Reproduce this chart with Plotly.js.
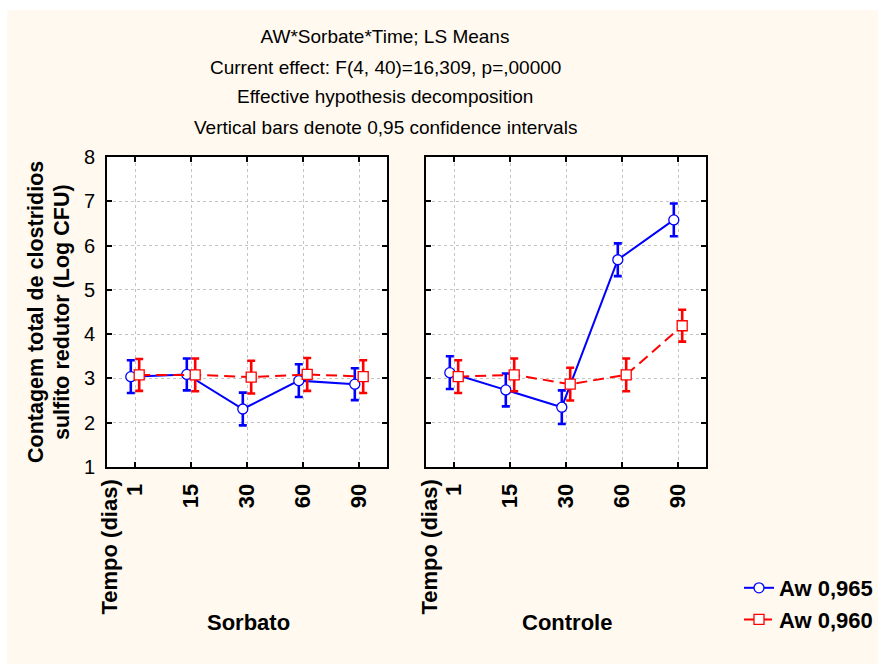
<!DOCTYPE html>
<html>
<head>
<meta charset="utf-8">
<script src="https://cdn.plot.ly/plotly-3.0.1.min.js"></script>
<style>
  html, body { margin: 0; padding: 0; background: #ffffff; }
  #chart { position: absolute; left: 7px; top: 10px; width: 871px; height: 654px; }
</style>
</head>
<body>
<div id="chart"></div>
<script>
// ---- data ----
const timeLabels = ['1', '15', '30', '60', '90'];
const seriesNames = ['Aw 0,965', 'Aw 0,960'];

// Sorbato panel
const sorbatoAw965 = [3.04, 3.09, 2.31, 2.95, 2.87];
const sorbatoAw965Err = [0.37, 0.36, 0.37, 0.37, 0.36];
const sorbatoAw960 = [3.08, 3.08, 3.03, 3.09, 3.04];
const sorbatoAw960Err = [0.36, 0.37, 0.37, 0.37, 0.37];

// Controle panel
const controleAw965 = [3.13, 2.74, 2.35, 5.68, 6.58];
const controleAw965Err = [0.37, 0.37, 0.38, 0.37, 0.37];
const controleAw960 = [3.04, 3.08, 2.87, 3.08, 4.19];
const controleAw960Err = [0.37, 0.37, 0.37, 0.37, 0.36];

const panelNames = ['Sorbato', 'Controle'];
const titleLines = [
  'AW*Sorbate*Time; LS Means',
  'Current effect: F(4, 40)=16,309, p=,00000',
  'Effective hypothesis decomposition',
  'Vertical bars denote 0,95 confidence intervals'
];
const yTitleLines = ['Contagem total de clostridios', 'sulfito redutor (Log CFU)'];
const xTitle = 'Tempo (dias)';

// ---- styles ----
const BLUE = '#0000ff', RED = '#ff0000';
const FONT = 'Arial, Liberation Sans, sans-serif';
const off = 0.075;
const idx = timeLabels.map((_, i) => i);

function trace(vals, errs, color, symbol, dash, offset, xa, ya, name, showlegend) {
  return {
    type: 'scatter', mode: 'lines+markers',
    x: idx.map(i => i + offset), y: vals,
    xaxis: xa, yaxis: ya, name: name, showlegend: showlegend,
    line: { color: color, width: 2, dash: dash },
    marker: { symbol: symbol, size: 10, color: '#ffffff', line: { color: color, width: 1.3 } },
    error_y: { type: 'data', array: errs, visible: true, color: color, thickness: 2.6, width: 4 }
  };
}

const data = [
  trace(sorbatoAw965, sorbatoAw965Err, BLUE, 'circle', 'solid', -off, 'x', 'y', seriesNames[0], true),
  trace(sorbatoAw960, sorbatoAw960Err, RED, 'square', '11px,6px', off, 'x', 'y', seriesNames[1], true),
  trace(controleAw965, controleAw965Err, BLUE, 'circle', 'solid', -off, 'x2', 'y2', seriesNames[0], false),
  trace(controleAw960, controleAw960Err, RED, 'square', '11px,6px', off, 'x2', 'y2', seriesNames[1], false)
];

const W = 871, H = 654, ml = 100, mr = 172, mt = 147, mb = 197;
const pw = W - ml - mr, ph = H - mt - mb;
const px = v => (v - ml) / pw;           // div x pixel -> paper
const py = v => (H - mb - v) / ph;       // div y pixel -> paper

const xCommon = {
  range: [-0.5, 4.5], tickvals: idx, ticktext: timeLabels,
  tickangle: -90, ticks: 'inside', ticklen: 5, tickwidth: 2, tickcolor: '#000',
  showline: true, linecolor: '#000', linewidth: 2, mirror: 'ticks',
  showgrid: true, gridcolor: '#c4c4c4', gridwidth: 1, griddash: 'dot',
  zeroline: false, ticklabelstandoff: 6, automargin: false,
  tickfont: { family: FONT, size: 22, color: '#000', weight: 'bold' }
};
const yCommon = {
  range: [1, 8], dtick: 1, ticks: 'inside', ticklen: 5, tickwidth: 2, tickcolor: '#000',
  showline: true, linecolor: '#000', linewidth: 2, mirror: 'ticks',
  showgrid: true, gridcolor: '#c4c4c4', gridwidth: 1, griddash: 'dot',
  zeroline: false, ticklabelstandoff: 6, automargin: false,
  tickfont: { family: FONT, size: 20, color: '#000' }
};

const ann = [];
const titleY = [26, 57, 87, 117];
titleLines.slice(1).forEach((t, i) => ann.push({
  text: t, xref: 'paper', yref: 'paper', x: px(378), y: py(titleY[i + 1]),
  xanchor: 'center', yanchor: 'middle', showarrow: false,
  font: { family: FONT, size: 19, color: '#000' }
}));
[[29, yTitleLines[0]], [55, yTitleLines[1]]].forEach(([x, t]) => ann.push({
  text: t, xref: 'paper', yref: 'paper', x: px(x), y: 0.5, textangle: -90,
  xanchor: 'center', yanchor: 'middle', showarrow: false,
  font: { family: FONT, size: 21.5, color: '#000', weight: 'bold' }
}));
[102, 422].forEach(x => ann.push({
  text: xTitle, xref: 'paper', yref: 'paper', x: px(x), y: py(468), textangle: -90,
  xanchor: 'center', yanchor: 'top', showarrow: false,
  font: { family: FONT, size: 22, color: '#000', weight: 'bold' }
}));
[[241, panelNames[0]], [560, panelNames[1]]].forEach(([x, t]) => ann.push({
  text: t, xref: 'paper', yref: 'paper', x: px(x), y: py(612),
  xanchor: 'center', yanchor: 'middle', showarrow: false,
  font: { family: FONT, size: 22, color: '#000', weight: 'bold' }
}));

const layout = {
  width: W, height: H,
  margin: { l: ml, r: mr, t: mt, b: mb, pad: 0, autoexpand: false },
  paper_bgcolor: '#fff9ef', plot_bgcolor: '#ffffff',
  title: {
    text: titleLines[0], x: px(378), xref: 'paper', xanchor: 'center',
    y: 1 - 26 / H, yref: 'container', yanchor: 'middle',
    font: { family: FONT, size: 19, color: '#000' }
  },
  xaxis: Object.assign({}, xCommon, { domain: [0, 280 / pw], anchor: 'y' }),
  xaxis2: Object.assign({}, xCommon, { domain: [319 / pw, 1], anchor: 'y2' }),
  yaxis: Object.assign({}, yCommon, { domain: [0, 1], anchor: 'x' }),
  yaxis2: Object.assign({}, yCommon, { domain: [0, 1], anchor: 'x2', showticklabels: false }),
  showlegend: true,
  legend: {
    x: px(732), y: py(557), xanchor: 'left', yanchor: 'top',
    bgcolor: 'rgba(0,0,0,0)', tracegroupgap: 0,
    font: { family: FONT, size: 22, color: '#000', weight: 'bold' }
  },
  annotations: ann
};

Plotly.newPlot('chart', data, layout, { displayModeBar: false, staticPlot: true });
</script>
</body>
</html>
